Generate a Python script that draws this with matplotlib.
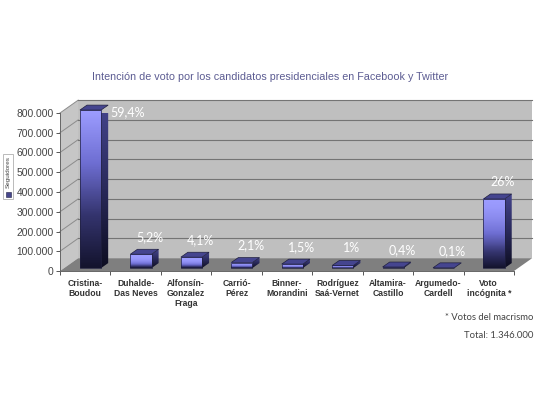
import numpy as np
import matplotlib
matplotlib.use("Agg")
import matplotlib.pyplot as plt
from matplotlib.colors import LinearSegmentedColormap
from matplotlib.patches import Polygon, Rectangle

candidatos = ["Cristina-\nBoudou", "Duhalde-\nDas Neves", "Alfonsín-\nGonzalez\nFraga", "Carrió-\nPérez",
              "Binner-\nMorandini", "Rodríguez\nSaá-Vernet", "Altamira-\nCastillo", "Argumedo-\nCardell",
              "Voto\nincógnita *"]
seguidores = [800000, 70000, 55000, 28000, 20000, 13000, 5400, 1300, 350000]
porcentajes = ["59,4%", "5,2%", "4,1%", "2,1%", "1,5%", "1%", "0,4%", "0,1%", "26%"]
y_ticks = [0, 100000, 200000, 300000, 400000, 500000, 600000, 700000, 800000]
y_labels = ["0", "100.000", "200.000", "300.000", "400.000", "500.000", "600.000", "700.000", "800.000"]

W, H = 540, 405
plt.rcParams['font.family'] = ['Liberation Sans', 'DejaVu Sans']

# profundidad del grafico 3D en unidades de datos
DX, DY = 0.36, 65000
BAR_W, BAR_DX, BAR_DY = 0.42, 0.14, 25000
BAR_SHIFT, BAR_BASE = 0.105, 15000

front = LinearSegmentedColormap.from_list("front", ["#9c9cff", "#6e6ed2", "#34346e", "#14142e"])
side = LinearSegmentedColormap.from_list("side", ["#44448c", "#2a2a5c", "#0e0e22"])
grad = np.linspace(0, 1, 64).reshape(-1, 1)

fig = plt.figure(figsize=(W / 100, H / 100), dpi=100, facecolor="white")
ax = fig.add_axes([60 / W, 1 - 271 / H, 454 / W, 158 / H])
x0, x1 = -0.5, 8.5

# paredes y piso
ax.add_patch(Polygon([(x0 + DX, DY), (x1 + DX, DY), (x1 + DX, 800000 + DY), (x0 + DX, 800000 + DY)],
                     fc="#bfbfbf", ec="none", clip_on=False, zorder=1))
ax.add_patch(Polygon([(x0, 0), (x0 + DX, DY), (x0 + DX, 800000 + DY), (x0, 800000)],
                     fc="#c6c6c6", ec="none", clip_on=False, zorder=1))
ax.add_patch(Polygon([(x0, 0), (x1, 0), (x1 + DX, DY), (x0 + DX, DY)],
                     fc="#7f7f7f", ec="none", clip_on=False, zorder=1.5))
for v in y_ticks[1:]:
    ax.plot([x0, x0 + DX], [v, v + DY], color="#8c8c8c", lw=0.7, clip_on=False, zorder=1.2)
    ax.plot([x0 + DX, x1 + DX], [v + DY, v + DY], color="#747474", lw=0.8, clip_on=False, zorder=1.2)

# barras
for i, v in enumerate(seguidores):
    left = i - BAR_W / 2 + BAR_SHIFT
    right = left + BAR_W
    top = BAR_BASE + v
    # las barras bajas quedan claras, con el borde oscuro solo abajo
    exp = 1 if v > 500000 else (1.6 if v > 100000 else 3)
    im = ax.imshow(grad ** exp, cmap=front, vmin=0, vmax=1, extent=(left, right, BAR_BASE, top),
                   aspect="auto", zorder=3)
    im.set_clip_on(False)
    ax.add_patch(Rectangle((left, BAR_BASE), BAR_W, v, fc="none", ec="#20203f", lw=0.5, clip_on=False, zorder=3.5))
    ax.add_patch(Polygon([(left, top), (right, top), (right + BAR_DX, top + BAR_DY), (left + BAR_DX, top + BAR_DY)],
                         fc="#45458f", ec="#20203f", lw=0.5, clip_on=False, zorder=4))
    clip = Polygon([(right, BAR_BASE), (right + BAR_DX, BAR_BASE + BAR_DY), (right + BAR_DX, top + BAR_DY), (right, top)],
                   fc="none", ec="none", clip_on=False, zorder=3)
    ax.add_patch(clip)
    im2 = ax.imshow(grad, cmap=side, extent=(right, right + BAR_DX, BAR_BASE, top + BAR_DY), aspect="auto", zorder=3)
    im2.set_clip_path(clip)

    # porcentajes
    off = (37.5, -2) if i == 0 else (9, 17)
    ax.annotate(porcentajes[i], (i + BAR_SHIFT, top), xytext=(off[0] * 0.72, off[1] * 0.72),
                textcoords="offset points", ha="center", va="center", color="white",
                fontsize=9, family="Lato", zorder=6, annotation_clip=False)

ax.set_xlim(x0, x1)
ax.set_ylim(0, 800000)
ax.set_xticks(np.arange(x0, x1 + 1))
ax.set_xticklabels([])
ax.set_xticks(np.arange(len(candidatos)), labels=candidatos, minor=True)
ax.set_yticks(y_ticks, labels=y_labels)
ax.tick_params(axis="x", which="major", length=3, width=0.7, color="#555555")
ax.tick_params(axis="x", which="minor", length=0, pad=5.5, labelsize=6.2, labelcolor="#333333")
ax.tick_params(axis="y", length=3, width=0.7, color="#555555", labelsize=7.4, labelcolor="#444444", pad=1.5)
for lab in ax.get_xticklabels(minor=True):
    lab.set_fontweight("bold")
    lab.set_linespacing(1.15)
for s in ["top", "right"]:
    ax.spines[s].set_visible(False)
for s in ["left", "bottom"]:
    ax.spines[s].set_color("#666666")
    ax.spines[s].set_linewidth(0.7)
    ax.spines[s].set_zorder(2)

fig.text(270 / W, 1 - 77 / H, "Intención de voto por los candidatos presidenciales en Facebook y Twitter",
         ha="center", va="center", fontsize=7.75, color="#5c5c92")
fig.text(533 / W, 1 - 318 / H, "* Votos del macrismo", ha="right", va="center", fontsize=6.8,
         color="#444444", family="Lato")
fig.text(533 / W, 1 - 335 / H, "Total: 1.346.000", ha="right", va="center", fontsize=6.8,
         color="#444444", family="Lato")

# leyenda
fig.add_artist(Rectangle((3 / W, 1 - 199 / H), 10 / W, 45 / H, transform=fig.transFigure,
                         fc="white", ec="#b0b0b0", lw=0.6))
fig.add_artist(Rectangle((5.5 / W, 1 - 197 / H), 5 / W, 5 / H, transform=fig.transFigure,
                         fc="#46468c", ec="#222244", lw=0.4))
fig.text(8 / W, 1 - 172 / H, "Seguidores", rotation=90, ha="center", va="center", fontsize=4.6, color="#444444")

fig.savefig("out.png", dpi=100)
